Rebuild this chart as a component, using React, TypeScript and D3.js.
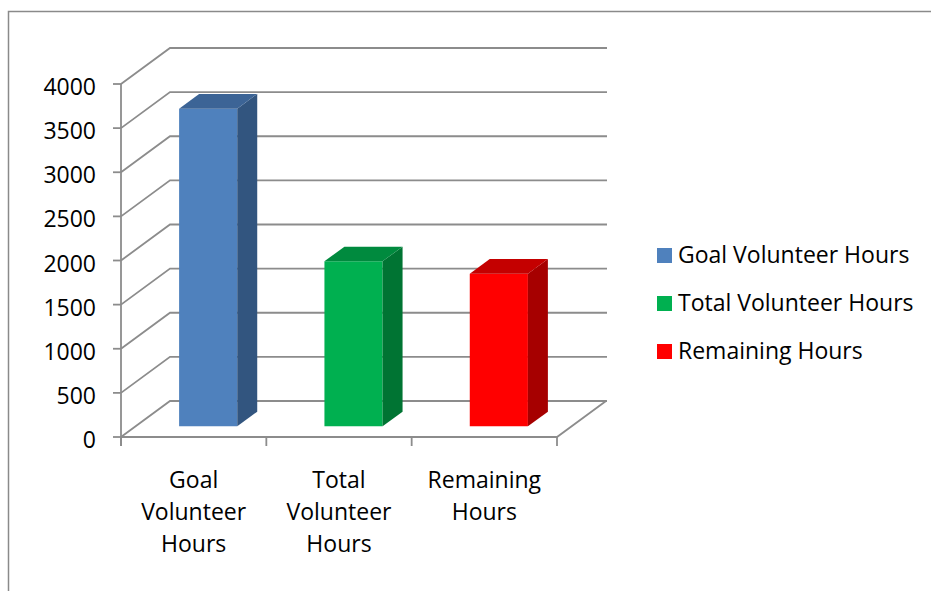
import React, { useRef, useEffect } from 'react';
import * as d3 from "d3";

const categories = [
  ["Goal", "Volunteer", "Hours"],
  ["Total", "Volunteer", "Hours"],
  ["Remaining", "Hours"],
];
const seriesNames = ["Goal Volunteer Hours", "Total Volunteer Hours", "Remaining Hours"];
const values = [3600, 1870, 1730];
const yTicks = [0, 500, 1000, 1500, 2000, 2500, 3000, 3500, 4000];

// front, top, side shades for each bar
const colors = [
  { front: "#4f81bd", top: "#3c6496", side: "#32557f" },
  { front: "#00b050", top: "#008a3e", side: "#007433" },
  { front: "#ff0000", top: "#c40000", side: "#a60000" },
];

const FONT = "'Open Sans', sans-serif";

export default function App() {
  const svgRef = useRef<SVGSVGElement>(null);

  useEffect(() => {
    if (!svgRef.current) return;
    const svg = d3.select(svgRef.current);
    svg.selectAll("*").remove();

    const x = d3.scaleBand<number>()
      .domain(categories.map((_, i) => i))
      .range([121, 557]);

    const y = d3.scaleLinear()
      .domain([0, 4000])
      .range([437, 84]);

    // depth offset of the 3d box
    const depthX = 49;
    const depthY = -36;
    const proj = (px: number, v: number, z: number): [number, number] =>
      [px + depthX * z, y(v) + depthY * z];

    const grid = "#8c8c8c";

    // outer frame
    svg.append("path")
      .attr("d", "M8.5,600 L8.5,11.5 L940,11.5")
      .attr("fill", "none")
      .attr("stroke", "#8a8a8a")
      .attr("stroke-width", 1.5);

    // gridlines: left wall diagonal + back wall horizontal
    const line = d3.line();
    svg.append("g")
      .selectAll("path")
      .data(yTicks)
      .join("path")
      .attr("d", d => line([[121, y(d)], proj(121, d, 1), [607, y(d) + depthY]]))
      .attr("fill", "none")
      .attr("stroke", grid)
      .attr("stroke-width", 1.8);

    // floor front and right edges
    svg.append("path")
      .attr("d", line([[121, y(0)], [557, y(0)], proj(557, 0, 1)]))
      .attr("fill", "none")
      .attr("stroke", grid)
      .attr("stroke-width", 1.8);

    // vertical axis and ticks
    svg.append("line")
      .attr("x1", 121).attr("x2", 121)
      .attr("y1", y(4000)).attr("y2", y(0) + 9)
      .attr("stroke", grid).attr("stroke-width", 1.8);

    svg.append("g")
      .selectAll("line")
      .data(yTicks)
      .join("line")
      .attr("x1", 113).attr("x2", 121)
      .attr("y1", d => y(d)).attr("y2", d => y(d))
      .attr("stroke", grid).attr("stroke-width", 1.8);

    svg.append("g")
      .selectAll("text")
      .data(yTicks)
      .join("text")
      .attr("x", 96)
      .attr("y", d => y(d) + 11)
      .attr("text-anchor", "end")
      .attr("font-family", FONT)
      .attr("font-size", 23)
      .attr("fill", "#000")
      .text(d => d);

    // category ticks
    const catEdges = [...categories.map((_, i) => x(i) as number), 557];
    svg.append("g")
      .selectAll("line")
      .data(catEdges)
      .join("line")
      .attr("x1", d => d).attr("x2", d => d)
      .attr("y1", y(0)).attr("y2", y(0) + 9)
      .attr("stroke", grid).attr("stroke-width", 1.8);

    // category labels
    const catG = svg.append("g")
      .attr("font-family", FONT)
      .attr("font-size", 23)
      .attr("fill", "#000")
      .attr("text-anchor", "middle");
    categories.forEach((lines, i) => {
      const cx = (x(i) as number) + x.bandwidth() / 2;
      lines.forEach((t, j) => {
        catG.append("text")
          .attr("x", cx)
          .attr("y", 488 + j * 32)
          .text(t);
      });
    });

    // bars
    const z0 = 0.296;
    const z1 = 0.704;
    const barW = x.bandwidth() * 0.4;
    const barsG = svg.append("g");
    values.forEach((v, i) => {
      const xl = (x(i) as number) + (x.bandwidth() - barW) / 2;
      const xr = xl + barW;
      const c = colors[i];
      const poly = (pts: [number, number][]) => "M" + pts.join("L") + "Z";
      barsG.append("path")
        .attr("d", poly([proj(xl, 0, z0), proj(xr, 0, z0), proj(xr, v, z0), proj(xl, v, z0)]))
        .attr("fill", c.front);
      barsG.append("path")
        .attr("d", poly([proj(xr, 0, z0), proj(xr, 0, z1), proj(xr, v, z1), proj(xr, v, z0)]))
        .attr("fill", c.side);
      barsG.append("path")
        .attr("d", poly([proj(xl, v, z0), proj(xr, v, z0), proj(xr, v, z1), proj(xl, v, z1)]))
        .attr("fill", c.top);
    });

    // legend
    const legend = svg.append("g")
      .selectAll("g")
      .data(seriesNames)
      .join("g")
      .attr("transform", (_, i) => `translate(657,${248 + i * 48})`);
    legend.append("rect")
      .attr("width", 15).attr("height", 15)
      .attr("fill", (_, i) => colors[i].front);
    legend.append("text")
      .attr("x", 21)
      .attr("y", 15)
      .attr("font-family", FONT)
      .attr("font-size", 23)
      .attr("fill", "#000")
      .text(d => d);
  }, []);

  return (
    <svg ref={svgRef} width={931} height={591}
      style={{ position: "absolute", left: 0, top: 0, background: "#fff" }}></svg>
  );
}
